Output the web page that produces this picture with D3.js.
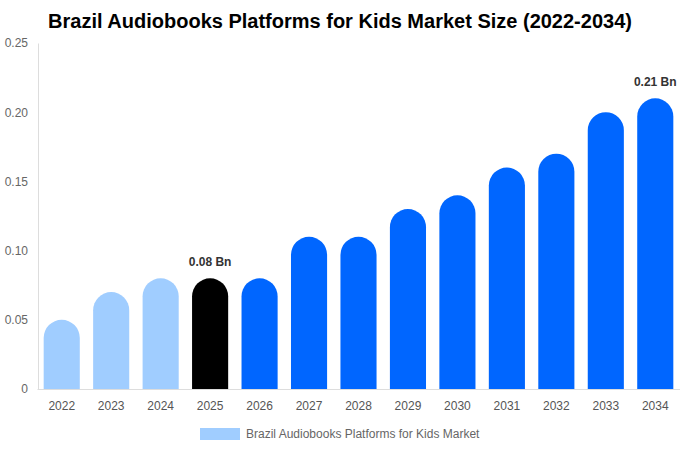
<!DOCTYPE html>
<html>
<head>
<meta charset="utf-8">
<script src="https://cdn.jsdelivr.net/npm/d3@7"></script>
<style>
  body { margin: 0; background: #fff; font-family: "Liberation Sans", Arial, sans-serif; }
  #chart { width: 680px; height: 450px; }
</style>
</head>
<body>
<div id="chart"></div>
<script>
const years = ['2022', '2023', '2024', '2025', '2026', '2027', '2028', '2029', '2030', '2031', '2032', '2033', '2034'];
const marketSize = [0.05, 0.07, 0.08, 0.08, 0.08, 0.11, 0.11, 0.13, 0.14, 0.16, 0.17, 0.20, 0.21];
const barKinds = ['past', 'past', 'past', 'base', 'forecast', 'forecast', 'forecast', 'forecast', 'forecast', 'forecast', 'forecast', 'forecast', 'forecast'];
const yTicks = [0, 0.05, 0.10, 0.15, 0.20, 0.25];
const labelled = { '2025': '0.08 Bn', '2034': '0.21 Bn' };
const seriesName = 'Brazil Audiobooks Platforms for Kids Market';

const colors = { past: '#a0cdff', base: '#000000', forecast: '#0066ff' };

const width = 680, height = 450;
const margin = { top: 43, right: 0, bottom: 61, left: 37 };

const svg = d3.select('#chart').append('svg')
    .attr('width', width)
    .attr('height', height);

svg.append('text')
    .attr('x', 340)
    .attr('y', 28)
    .attr('text-anchor', 'middle')
    .style('font-size', '20px')
    .style('font-weight', 'bold')
    .style('fill', '#000')
    .text('Brazil Audiobooks Platforms for Kids Market Size (2022-2034)');

const x = d3.scaleBand()
    .domain(years)
    .range([margin.left, width - margin.right])
    .paddingInner(0.27)
    .paddingOuter(0.135);

const y = d3.scaleLinear()
    .domain([0, 0.25])
    .range([height - margin.bottom, margin.top]);

// axes
const yAxis = d3.axisLeft(y)
    .tickValues(yTicks)
    .tickSize(0)
    .tickPadding(10)
    .tickFormat(d => d === 0 ? '0' : d3.format('.2f')(d));

const gy = svg.append('g')
    .attr('transform', `translate(${margin.left + 1},0)`)
    .call(yAxis);
gy.select('.domain').attr('stroke', '#ddd');
gy.selectAll('text').style('font-size', '12px').style('fill', '#666');

const xAxis = d3.axisBottom(x).tickSize(0).tickPadding(12);
const gx = svg.append('g')
    .attr('transform', `translate(0,${height - margin.bottom})`)
    .call(xAxis);
gx.select('.domain').attr('stroke', '#ddd');
gx.selectAll('text').style('font-size', '12px').style('fill', '#555');

// bars with rounded tops
function barPath(x0, w, yTop, yBottom) {
    const r = Math.min(w / 2, yBottom - yTop);
    return `M${x0},${yBottom}` +
        `L${x0},${yTop + r}` +
        `A${r},${r} 0 0 1 ${x0 + w},${yTop + r}` +
        `L${x0 + w},${yBottom}Z`;
}

svg.append('g').selectAll('path')
    .data(years)
    .join('path')
    .attr('d', (d, i) => barPath(x(d), x.bandwidth(), y(marketSize[i]), y(0)))
    .attr('fill', (d, i) => colors[barKinds[i]]);

svg.append('g').selectAll('text')
    .data(years.filter(d => labelled[d]))
    .join('text')
    .attr('x', d => x(d) + x.bandwidth() / 2)
    .attr('y', d => y(marketSize[years.indexOf(d)]) - 12)
    .attr('text-anchor', 'middle')
    .style('font-size', '12px')
    .style('font-weight', 'bold')
    .style('fill', '#333')
    .text(d => labelled[d]);

// legend
const legend = svg.append('g').attr('transform', 'translate(200,428)');
legend.append('rect')
    .attr('width', 40)
    .attr('height', 12)
    .attr('fill', colors.past);
legend.append('text')
    .attr('x', 46)
    .attr('y', 10)
    .style('font-size', '12px')
    .style('fill', '#666')
    .text(seriesName);
</script>
</body>
</html>
